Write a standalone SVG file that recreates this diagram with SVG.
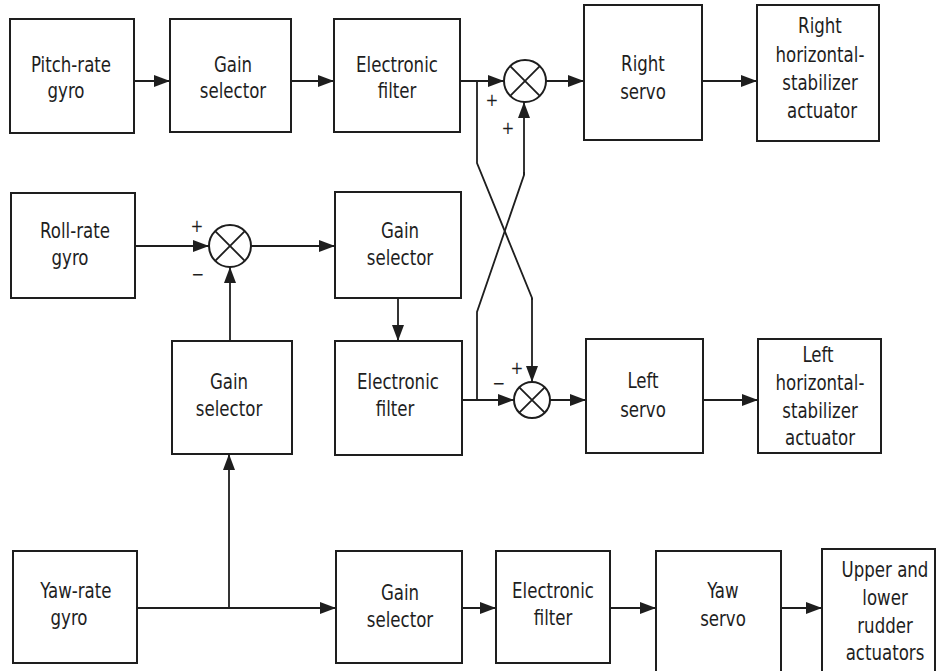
<svg xmlns="http://www.w3.org/2000/svg" width="937" height="671" viewBox="0 0 937 671">
<style>
.box{fill:#fff;stroke:#1e1e1e;stroke-width:2}
.ln{fill:none;stroke:#1e1e1e;stroke-width:1.8}
.arr{marker-end:url(#ah)}
.sum{fill:#fff;stroke:#1e1e1e;stroke-width:2}
text{font-family:"DejaVu Sans Condensed","DejaVu Sans",sans-serif;font-stretch:condensed;font-size:22px;fill:#1e1e1e;text-anchor:middle;transform-box:fill-box;transform-origin:center;transform:scaleX(0.84)}
.sg{font-size:17px;transform:none}
</style>
<defs>
<marker id="ah" markerUnits="userSpaceOnUse" markerWidth="17" markerHeight="12" refX="16" refY="6" orient="auto">
<path d="M0,0 L16,6 L0,12 z" fill="#1e1e1e"/>
</marker>
</defs>
<rect width="937" height="671" fill="#fff"/>

<g id="connectors">
<path class="ln arr" d="M134,81 H170"/>
<path class="ln arr" d="M291,81 H334"/>
<path class="ln arr" d="M460,81 H504"/>
<path class="ln arr" d="M546,81 H584"/>
<path class="ln arr" d="M702,81 H757"/>
<path class="ln" d="M477,81 V163 L532,298 V300"/>
<path class="ln arr" d="M532,298 V382"/>
<path class="ln" d="M477,400 V312 L524,175 V172"/>
<path class="ln arr" d="M524,175 V102"/>
<path class="ln arr" d="M135,246 H209"/>
<path class="ln arr" d="M251,246 H335"/>
<path class="ln arr" d="M398,298 V341"/>
<path class="ln arr" d="M230,341 V267"/>
<path class="ln arr" d="M462,400 H514"/>
<path class="ln arr" d="M550,400 H586"/>
<path class="ln arr" d="M703,400 H758"/>
<path class="ln arr" d="M137,608 H336"/>
<path class="ln arr" d="M229,608 V454"/>
<path class="ln arr" d="M462,608 H496"/>
<path class="ln arr" d="M610,608 H656"/>
<path class="ln arr" d="M781,608 H822"/>
</g>

<g id="sum-right">
<circle class="sum" cx="525" cy="81" r="21"/>
<path class="ln" d="M510.2,66.2 L539.8,95.8 M539.8,66.2 L510.2,95.8"/>
<text class="sg" x="492" y="106">+</text>
<text class="sg" x="508" y="134">+</text>
</g>
<g id="sum-roll">
<circle class="sum" cx="230" cy="246" r="21"/>
<path class="ln" d="M215.2,231.2 L244.8,260.8 M244.8,231.2 L215.2,260.8"/>
<text class="sg" x="197" y="232">+</text>
<text class="sg" x="198" y="280">−</text>
</g>
<g id="sum-left">
<circle class="sum" cx="532" cy="400" r="18"/>
<path class="ln" d="M519.3,387.3 L544.7,412.7 M544.7,387.3 L519.3,412.7"/>
<text class="sg" x="517" y="374">+</text>
<text class="sg" x="499" y="389">−</text>
</g>

<g id="pitch-gyro"><rect class="box" x="10" y="19" width="124" height="114"/><text x="71" y="72">Pitch-rate</text><text x="66" y="98">gyro</text></g>
<g id="pitch-gain"><rect class="box" x="170" y="19" width="121" height="113"/><text x="233" y="72">Gain</text><text x="233" y="98">selector</text></g>
<g id="pitch-filter"><rect class="box" x="334" y="19" width="126" height="113"/><text x="397" y="72">Electronic</text><text x="397" y="98">filter</text></g>
<g id="right-servo"><rect class="box" x="584" y="5" width="118" height="135"/><text x="643" y="71">Right</text><text x="643" y="99">servo</text></g>
<g id="right-actuator"><rect class="box" x="757" y="5" width="122" height="136"/><text x="820" y="33">Right</text><text x="820" y="62">horizontal-</text><text x="820" y="90">stabilizer</text><text x="822" y="118">actuator</text></g>

<g id="roll-gyro"><rect class="box" x="11" y="193" width="124" height="105"/><text x="75" y="238">Roll-rate</text><text x="70" y="265">gyro</text></g>
<g id="roll-gain"><rect class="box" x="335" y="192" width="126" height="106"/><text x="400" y="238">Gain</text><text x="400" y="265">selector</text></g>
<g id="cross-gain"><rect class="box" x="172" y="341" width="120" height="113"/><text x="229" y="389">Gain</text><text x="229" y="416">selector</text></g>
<g id="roll-filter"><rect class="box" x="335" y="341" width="127" height="114"/><text x="398" y="389">Electronic</text><text x="395" y="416">filter</text></g>
<g id="left-servo"><rect class="box" x="586" y="339" width="117" height="114"/><text x="643" y="388">Left</text><text x="643" y="417">servo</text></g>
<g id="left-actuator"><rect class="box" x="758" y="339" width="123" height="114"/><text x="818" y="362">Left</text><text x="820" y="390">horizontal-</text><text x="820" y="418">stabilizer</text><text x="820" y="445">actuator</text></g>

<g id="yaw-gyro"><rect class="box" x="13" y="551" width="124" height="112"/><text x="76" y="598">Yaw-rate</text><text x="69" y="625">gyro</text></g>
<g id="yaw-gain"><rect class="box" x="336" y="551" width="126" height="112"/><text x="400" y="600">Gain</text><text x="400" y="627">selector</text></g>
<g id="yaw-filter"><rect class="box" x="496" y="551" width="114" height="112"/><text x="553" y="598">Electronic</text><text x="553" y="625">filter</text></g>
<g id="yaw-servo"><rect class="box" x="656" y="551" width="125" height="125"/><text x="723" y="598">Yaw</text><text x="723" y="626">servo</text></g>
<g id="rudder-actuators"><rect class="box" x="822" y="549" width="113" height="127"/><text x="885" y="577">Upper and</text><text x="885" y="605">lower</text><text x="885" y="633">rudder</text><text x="885" y="660">actuators</text></g>
</svg>
